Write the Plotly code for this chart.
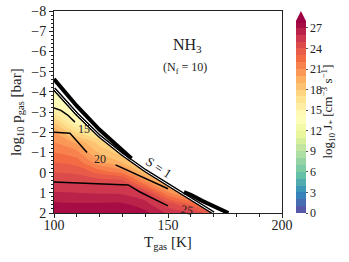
import plotly.graph_objects as go

# ---------------- data ----------------
T_grid = [100, 110, 120, 130, 140, 150, 160, 170, 180]
logp_grid = [-5, -4.5, -4, -3.5, -3, -2.5, -2, -1.5, -1, -0.5, 0, 0.5, 1, 1.5, 2]

# log10 J_* columns, one per temperature (rows follow logp_grid)
J_100 = [9, 11, 13, 14.2, 15.8, 17.9, 20, 21, 22, 23, 24, 25.06, 26.1, 27.1, 28]
J_110 = [6, 8.5, 10.5, 12, 13.4, 14.6, 16.8, 19.8, 21.3, 22.6, 23.8, 24.95, 26.0, 27.0, 28]
J_120 = [4, 6, 8, 10, 12, 14, 16, 17.5, 18.8, 20.3, 22.7, 24.85, 25.9, 27, 28]
J_130 = [3, 5, 7, 9, 11, 13, 14.5, 16, 17.5, 19.0, 21.8, 24.7, 25.8, 27.0, 27.8]
J_140 = [2, 4, 6, 8, 10, 11.5, 13, 14, 15.2, 16.8, 18.6, 21.5, 25, 26.3, 27.3]
J_150 = [1, 3, 5, 7, 8.5, 10, 11.5, 12.8, 14, 15.2, 16.5, 18.8, 21.2, 24.3, 25.8]
J_160 = [0, 2, 4, 6, 7.5, 9, 10.5, 12, 13.2, 14.5, 15.8, 17.5, 19.5, 22.5, 25.2]
J_170 = [0, 1, 3, 5, 6.5, 8, 9.5, 11, 12.2, 13.5, 14.8, 16.2, 18, 20.5, 23]
J_180 = [0, 0.5, 2, 4, 5.5, 7, 8.5, 10, 11.2, 12.5, 13.8, 15, 16.8, 19, 21.5]

# S = 1 boundary curves
outer_T = [100, 110, 120, 130, 134, None, 157, 160, 165, 170, 176.5]
outer_logp = [-4.63, -3.3, -2.12, -1.12, -0.7, None, 0.97, 1.1, 1.4, 1.68, 2.0]
inner_T = [100, 110, 120, 130, 140, 150, 160, 170]
inner_logp = [-4.15, -2.9, -1.8, -0.9, -0.1, 0.6, 1.3, 2.0]

# labelled J_* contour lines
c15_T = [100, 103, 106, 109.2]
c15_logp = [-3.2, -3.08, -2.85, -2.5]
c20_T = [100, 107, 114.5, None, 127, 138, 150]
c20_logp = [-2.0, -1.95, -1.0, None, -0.38, 0.18, 0.8]
c25_T = [100, 115, 132.5, 137.7, 150]
c25_logp = [0.47, 0.53, 0.61, 0.96, 1.65]

J_levels = (0, 28, 1)
cbar_ticks = [0, 3, 6, 9, 12, 15, 18, 21, 24, 27]
x_ticks = [100, 150, 200]

FONT = "Liberation Serif"
INK = "#222"

cols = [J_100, J_110, J_120, J_130, J_140, J_150, J_160, J_170, J_180]
z = [[cols[j][i] for j in range(len(T_grid))] for i in range(len(logp_grid))]

fig = go.Figure()

fig.add_trace(go.Contour(
    x=T_grid, y=logp_grid, z=z,
    zmin=J_levels[0], zmax=J_levels[1], autocontour=False,
    contours=dict(start=J_levels[0], end=J_levels[1], size=J_levels[2],
                  coloring="fill", showlines=False),
    line=dict(width=0),
    colorscale="Spectral", reversescale=True,
    colorbar=dict(
        thickness=10, len=0.95, lenmode="fraction",
        x=1.061, xanchor="left", y=0, yanchor="bottom",
        xpad=0, ypad=0, outlinewidth=0,
        tickvals=cbar_ticks, ticks="outside", ticklen=2, tickcolor="#555",
        tickfont=dict(family=FONT, size=12, color=INK),
    ),
    hoverinfo="skip",
))

# white mask above the S = 1 boundary
mask_T = inner_T + [200, 200, 100]
mask_p = inner_logp + [2, -8, -8]
fig.add_trace(go.Scatter(x=mask_T, y=mask_p, fill="toself", fillcolor="white",
                         line=dict(width=0), mode="lines", showlegend=False,
                         hoverinfo="skip"))

# J contour lines
for xs, ys in [(c15_T, c15_logp), (c20_T, c20_logp), (c25_T, c25_logp)]:
    fig.add_trace(go.Scatter(x=xs, y=ys, mode="lines",
                             line=dict(color="black", width=1.5),
                             showlegend=False, hoverinfo="skip"))

# boundary lines
fig.add_trace(go.Scatter(x=inner_T, y=inner_logp, mode="lines",
                         line=dict(color="black", width=3.5),
                         showlegend=False, hoverinfo="skip"))
fig.add_trace(go.Scatter(x=inner_T, y=inner_logp, mode="lines",
                         line=dict(color="white", width=1),
                         showlegend=False, hoverinfo="skip"))
fig.add_trace(go.Scatter(x=outer_T, y=outer_logp, mode="lines",
                         line=dict(color="black", width=4),
                         showlegend=False, hoverinfo="skip"))

# labels
lab_font = dict(family=FONT, size=12, color=INK)
fig.add_annotation(x=113, y=-2.15, text="15", showarrow=False, font=lab_font)
fig.add_annotation(x=120, y=-0.65, text="20", showarrow=False, font=lab_font)
fig.add_annotation(x=158.5, y=1.84, text="25", showarrow=False, font=lab_font, textangle=8)
fig.add_annotation(x=146, y=-0.25, text="S = 1", showarrow=False,
                   font=dict(family=FONT, size=13, color=INK), textangle=33)

C = dict(xref="paper", yref="paper", showarrow=False, xanchor="center", yanchor="middle")
fig.add_annotation(x=0.587, y=0.83, text="NH<sub>3</sub>",
                   font=dict(family=FONT, size=16, color=INK), **C)
fig.add_annotation(x=0.575, y=0.72, text="(N<sub>f</sub> = 10)",
                   font=dict(family=FONT, size=12, color=INK), **C)

# axis titles and colorbar title
fig.add_annotation(x=0.5, y=-0.148, text="T<sub>gas</sub> [K]",
                   font=dict(family=FONT, size=15, color=INK), **C)
fig.add_annotation(x=-0.162, y=0.5, text="log<sub>10</sub> p<sub>gas</sub> [bar]",
                   textangle=-90, font=dict(family=FONT, size=15, color=INK), **C)
fig.add_annotation(x=1.2, y=0.5,
                   text="log<sub>10</sub> J<sub>*</sub> [cm<sup>−3</sup> s<sup>−1</sup>]",
                   textangle=-90, font=dict(family=FONT, size=13, color=INK), **C)

# colorbar extend arrow
xl, xr = 1.061, 1.105
fig.add_shape(type="path", xref="paper", yref="paper",
              path=f"M {xl} 0.95 L {xr} 0.95 L {(xl+xr)/2} 1.0 Z",
              fillcolor="#9e0142", line=dict(width=0))

axis_common = dict(showline=True, linecolor=INK, linewidth=1, mirror=True,
                   showgrid=False, zeroline=False, ticks="outside", ticklen=4,
                   tickcolor=INK, automargin=False, ticklabeloverflow="allow",
                   tickfont=dict(family=FONT, size=14, color=INK))

fig.update_xaxes(range=[100, 200], tickvals=x_ticks,
                 minor=dict(dtick=10, ticks="outside", ticklen=2.5, tickcolor=INK),
                 ticklabelstandoff=-5,
                 **axis_common)
fig.update_yaxes(range=[2, -8], dtick=1, tick0=0,
                 minor=dict(dtick=0.2, ticks="outside", ticklen=2, tickcolor=INK),
                 **axis_common)

fig.update_layout(width=349, height=262,
                  margin=dict(l=54, r=67, t=11, b=49, autoexpand=False),
                  plot_bgcolor="white", paper_bgcolor="white", showlegend=False)

fig.write_html("out.html", config={"displayModeBar": False},
               post_script="document.body.style.margin='0';document.body.style.overflow='hidden';")
